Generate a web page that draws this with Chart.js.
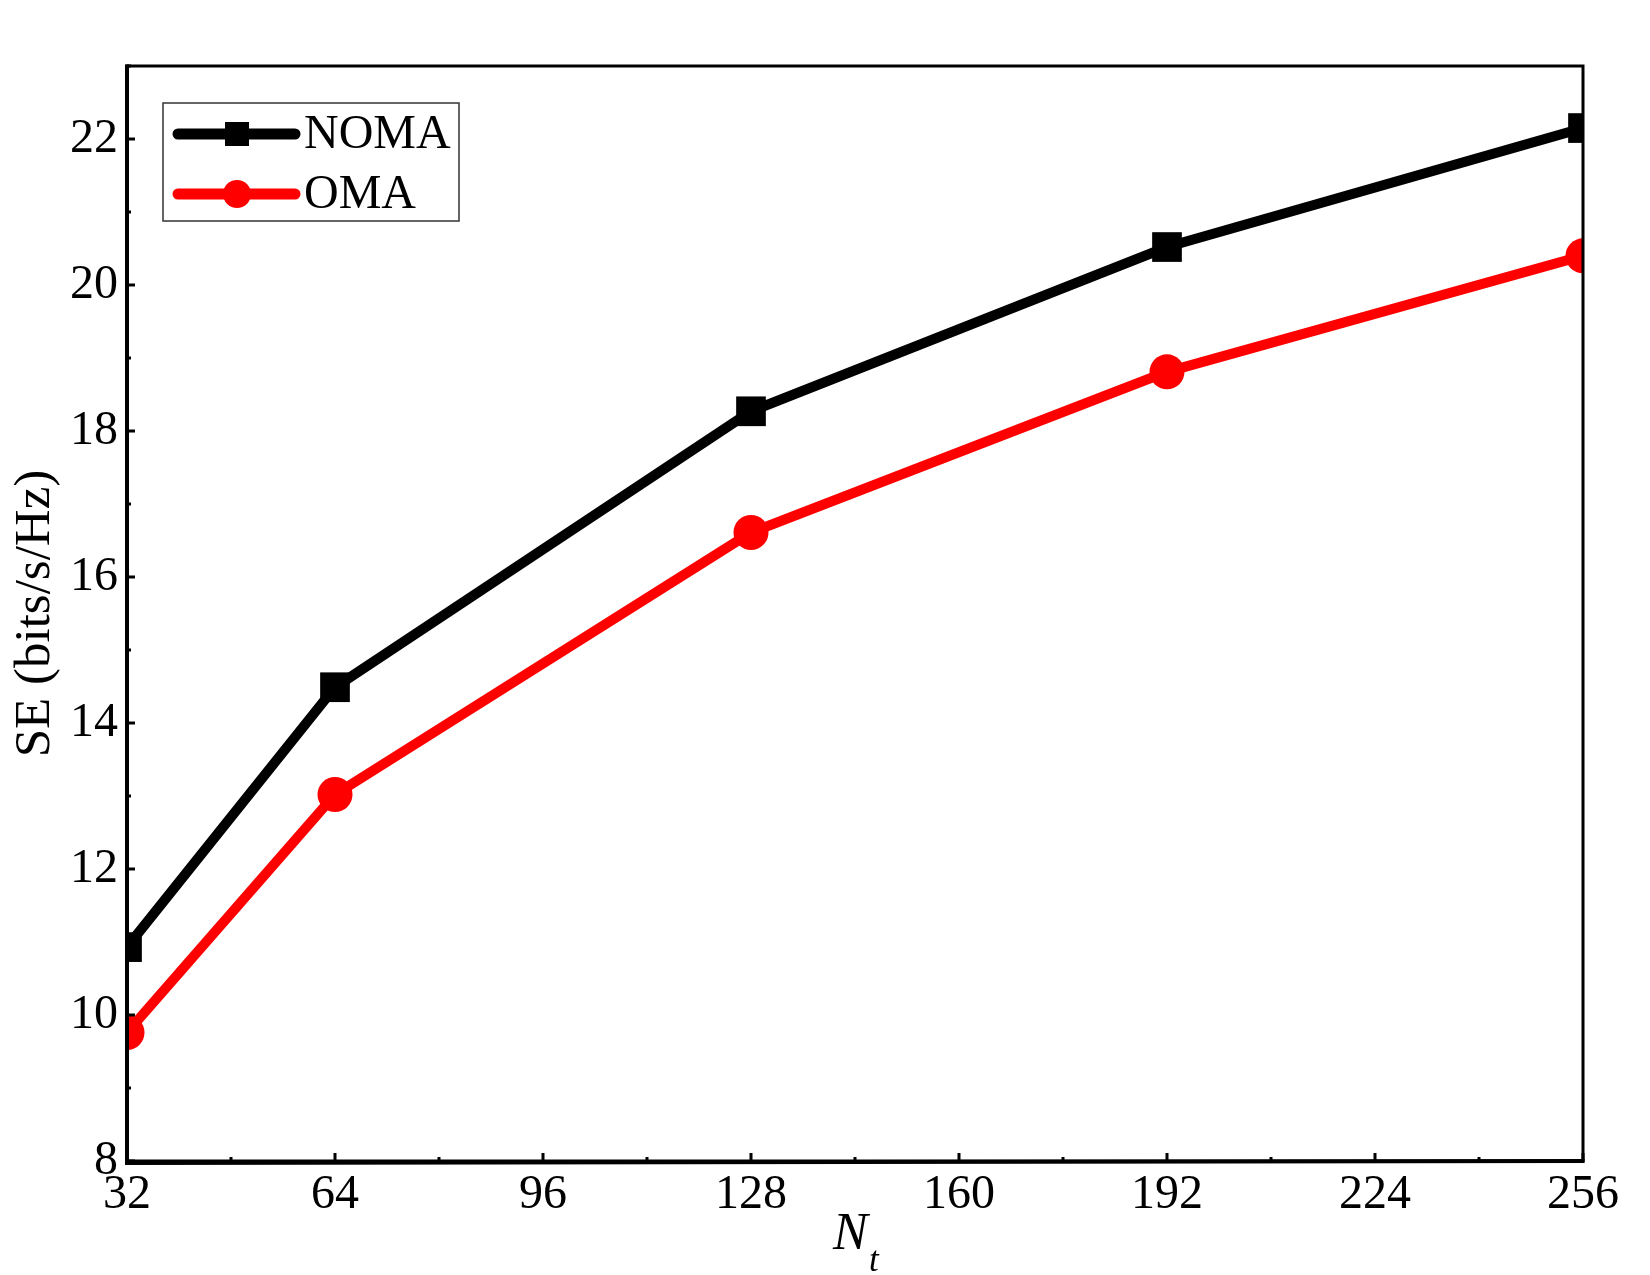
<!DOCTYPE html>
<html>
<head>
<meta charset="utf-8">
<script src="https://cdn.jsdelivr.net/npm/chart.js@4.4.0/dist/chart.umd.min.js"></script>
<style>
	html, body { margin: 0; padding: 0; background: #fff; }
	#wrap { width: 1650px; height: 1275px; }
</style>
</head>
<body>
<div id="wrap"><canvas id="seChart" width="1650" height="1275"></canvas></div>
<script>
// values
const antennas = [32, 64, 128, 192, 256];
const nomaSE = [10.93, 14.49, 18.27, 20.52, 22.15];
const omaSE = [9.76, 13.02, 16.61, 18.81, 20.40];
const xTicks = [32, 64, 96, 128, 160, 192, 224, 256];
const yTicks = [8, 10, 12, 14, 16, 18, 20, 22];
const seriesNames = ["NOMA", "OMA"];

const serif = "'Liberation Serif', 'Times New Roman', serif";

function toPoints(ys) {
	return antennas.map((x, i) => ({ x: x, y: ys[i] }));
}

// frame, inward ticks, legend and the N_t label
const decorations = {
	id: "decorations",
	afterDraw(chart) {
		const ctx = chart.ctx;
		const a = chart.chartArea;
		const xs = chart.scales.x;
		const ys = chart.scales.y;
		ctx.save();
		ctx.strokeStyle = "#000";
		ctx.lineCap = "butt";

		// frame
		ctx.lineWidth = 3;
		ctx.strokeRect(a.left, a.top, a.right - a.left, a.bottom - a.top);
		ctx.lineWidth = 4;
		ctx.beginPath();
		ctx.moveTo(a.left, a.top - 1.5);
		ctx.lineTo(a.left, a.bottom + 2);
		ctx.lineTo(a.right + 1.5, a.bottom);
		ctx.stroke();

		// ticks pointing inward
		ctx.lineWidth = 3;
		ctx.beginPath();
		for (let i = 0; i < xTicks.length; i++) {
			const px = xs.getPixelForValue(xTicks[i]);
			ctx.moveTo(px, a.bottom);
			ctx.lineTo(px, a.bottom - 8);
			if (i < xTicks.length - 1) {
				const mx = xs.getPixelForValue((xTicks[i] + xTicks[i + 1]) / 2);
				ctx.moveTo(mx, a.bottom);
				ctx.lineTo(mx, a.bottom - 4);
			}
		}
		for (let i = 0; i < yTicks.length; i++) {
			const py = ys.getPixelForValue(yTicks[i]);
			ctx.moveTo(a.left, py);
			ctx.lineTo(a.left + 8, py);
			const my = ys.getPixelForValue(yTicks[i] + 1);
			ctx.moveTo(a.left, my);
			ctx.lineTo(a.left + 4, my);
		}
		ctx.stroke();

		// legend
		const bx = a.left + 36;
		const by = a.top + 37;
		ctx.lineWidth = 1.5;
		ctx.strokeStyle = "#333";
		ctx.strokeRect(bx, by, 296, 118);
		chart.data.datasets.forEach((ds, i) => {
			const cy = by + 31 + i * 60;
			ctx.strokeStyle = ds.borderColor;
			ctx.fillStyle = ds.borderColor;
			ctx.lineWidth = 11;
			ctx.lineCap = "round";
			ctx.beginPath();
			ctx.moveTo(bx + 15, cy);
			ctx.lineTo(bx + 132, cy);
			ctx.stroke();
			const mx = bx + 74;
			if (ds.pointStyle === "rect") {
				ctx.fillRect(mx - 12, cy - 12, 24, 24);
			} else {
				ctx.beginPath();
				ctx.arc(mx, cy, 14, 0, Math.PI * 2);
				ctx.fill();
			}
			ctx.fillStyle = "#000";
			ctx.font = "48px " + serif;
			ctx.textBaseline = "middle";
			ctx.textAlign = "left";
			ctx.fillText(ds.label, bx + 141, cy + 1);
		});

		// x axis title: N with subscript t
		const cx = (a.left + a.right) / 2;
		ctx.fillStyle = "#000";
		ctx.textBaseline = "alphabetic";
		ctx.textAlign = "left";
		ctx.font = "italic 52px " + serif;
		ctx.fillText("N", cx - 22, a.bottom + 88);
		ctx.font = "italic 35px " + serif;
		ctx.fillText("t", cx + 14, a.bottom + 110);
		ctx.restore();
	},
};

const ctx = document.getElementById("seChart");
const seChart = new Chart(ctx, {
	type: "line",
	data: {
		datasets: [
			{
				label: seriesNames[0],
				data: toPoints(nomaSE),
				borderColor: "#000000",
				backgroundColor: "#000000",
				borderWidth: 10,
				pointStyle: "rect",
				pointRadius: 21,
				pointHoverRadius: 21,
				pointBorderWidth: 0,
				clip: 0,
			},
			{
				label: seriesNames[1],
				data: toPoints(omaSE),
				borderColor: "#ff0000",
				backgroundColor: "#ff0000",
				borderWidth: 10,
				pointStyle: "circle",
				pointRadius: 17.5,
				pointHoverRadius: 17.5,
				pointBorderWidth: 0,
				clip: 0,
			},
		],
	},
	options: {
		responsive: false,
		devicePixelRatio: 1,
		animation: false,
		events: [],
		layout: {
			padding: { top: 66, right: 67, left: 0, bottom: 0 },
		},
		plugins: {
			legend: { display: false },
			tooltip: { enabled: false },
		},
		scales: {
			x: {
				type: "linear",
				min: 32,
				max: 256,
				grid: { display: false, drawTicks: false },
				border: { display: false },
				afterBuildTicks: (scale) => {
					scale.ticks = xTicks.map((v) => ({ value: v }));
				},
				afterFit: (scale) => {
					scale.height = 114;
				},
				ticks: {
					color: "#000",
					padding: 6,
					maxRotation: 0,
					autoSkip: false,
					font: { family: serif, size: 48 },
				},
			},
			y: {
				type: "linear",
				min: 8,
				max: 23,
				grid: { display: false, drawTicks: false },
				border: { display: false },
				afterBuildTicks: (scale) => {
					scale.ticks = yTicks.map((v) => ({ value: v }));
				},
				afterFit: (scale) => {
					scale.width = 127;
				},
				ticks: {
					color: "#000",
					padding: 9,
					autoSkip: false,
					font: { family: serif, size: 48 },
				},
				title: {
					display: true,
					text: "SE (bits/s/Hz)",
					color: "#000",
					padding: { top: 5 },
					font: { family: serif, size: 51 },
				},
			},
		},
	},
	plugins: [decorations],
});
</script>
</body>
</html>
